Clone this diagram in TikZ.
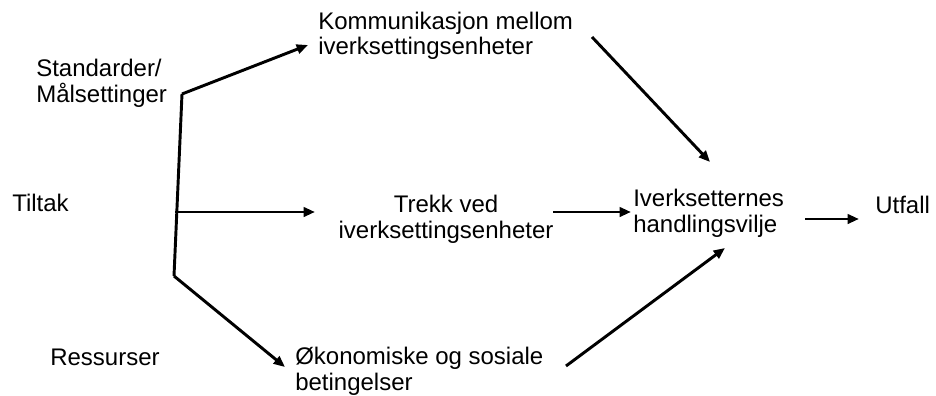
\documentclass[tikz,border=0pt]{standalone}
\usepackage{fontspec}
\setmainfont{Liberation Sans}
\usetikzlibrary{arrows.meta}
\begin{document}
\begin{tikzpicture}[x=0.75pt,y=-0.75pt,
  lbl/.style={anchor=base west, inner sep=0pt, align=left, font=\fontsize{18}{19.5}\selectfont},
  clbl/.style={anchor=base, inner sep=0pt, align=center, font=\fontsize{18}{19.5}\selectfont},
  conn/.style={line width=2.2pt, line join=miter},
  arr/.style={conn, -{Triangle[length=8.5pt,width=7pt]}}]
\useasboundingbox (0,0) rectangle (936,396);
% labels (base = baseline of the last line)
\node[lbl] (std) at (36,102) {Standarder/\\Målsettinger};
\node[lbl] (tiltak) at (12,211) {Tiltak};
\node[lbl] (ress) at (50,365) {Ressurser};
\node[lbl] (komm) at (318,55) {Kommunikasjon mellom\\iverksettingsenheter};
\node[clbl] (trekk) at (446,238) {Trekk ved\\iverksettingsenheter};
\node[lbl] (okon) at (295,390) {Økonomiske og sosiale\\betingelser};
\node[lbl] (iverk) at (633,232) {Iverksetternes\\handlingsvilje};
\node[lbl] (utfall) at (875,213) {Utfall};
% connector points
\coordinate (c1) at (182,94);
\coordinate (c2) at (174,276);
\coordinate (j) at (175,212);
\coordinate (t1) at (308,45);
\coordinate (t2) at (315,212);
\coordinate (t3) at (285,367);
\coordinate (k1) at (592,37);
\coordinate (k2) at (710,162);
\coordinate (m1) at (553,212);
\coordinate (m2) at (631,212);
\coordinate (o1) at (566,366);
\coordinate (o2) at (725,248);
\coordinate (u1) at (805,219);
\coordinate (u2) at (859,219);
% connectors
\draw[conn] (c1) -- (c2);
\draw[arr] (c1) -- (t1);
\draw[arr] (j) -- (t2);
\draw[arr] (c2) -- (t3);
\draw[arr] (k1) -- (k2);
\draw[arr] (m1) -- (m2);
\draw[arr] (o1) -- (o2);
\draw[arr] (u1) -- (u2);
\end{tikzpicture}
\end{document}
